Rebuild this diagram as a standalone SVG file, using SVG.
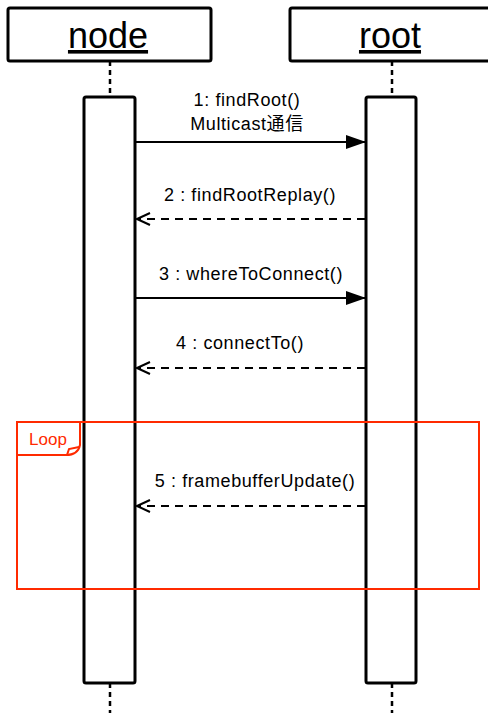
<svg xmlns="http://www.w3.org/2000/svg" width="488" height="713" viewBox="0 0 488 713">
<style>
.box{fill:#fff;stroke:#000;stroke-width:3;stroke-linejoin:round}
.life{stroke:#000;stroke-width:2.5;stroke-dasharray:5 4;fill:none}
.title{font-family:"Liberation Sans",Arial,sans-serif;font-size:36px;text-anchor:middle;fill:#000;text-decoration:underline}
.lbl{font-family:"Liberation Sans","Noto Sans CJK JP",Arial,sans-serif;font-size:18px;letter-spacing:0.6px;text-anchor:middle;fill:#000}
.msg{stroke:#000;stroke-width:2;fill:none}
.ret{stroke:#000;stroke-width:2;fill:none;stroke-dasharray:8 6}
.frame{fill:none;stroke:#ff2a00;stroke-width:2}
</style>
<defs>
<marker id="fill" markerWidth="20" markerHeight="14" refX="19" refY="7" orient="auto" markerUnits="userSpaceOnUse">
<path d="M0,0 L20,7 L0,14 Z" fill="#000"/>
</marker>
<marker id="open" markerWidth="16" markerHeight="14" refX="14" refY="7" orient="auto" markerUnits="userSpaceOnUse">
<path d="M1,1 L14,7 L1,13" fill="none" stroke="#000" stroke-width="2"/>
</marker>
</defs>
<g id="node">
<rect class="box" x="8" y="8" width="203" height="53" rx="2"/>
<text class="title" x="108" y="48">node</text>
<line class="life" x1="110" y1="61" x2="110" y2="97"/>
<line class="life" x1="110" y1="683" x2="110" y2="713"/>
<rect class="box" x="84" y="97" width="51" height="586" rx="2"/>
</g>
<g id="root">
<rect class="box" x="290" y="8" width="200" height="53" rx="2"/>
<text class="title" x="390" y="48">root</text>
<line class="life" x1="392" y1="61" x2="392" y2="97"/>
<line class="life" x1="392" y1="683" x2="392" y2="713"/>
<rect class="box" x="366" y="97" width="50" height="586" rx="2"/>
</g>
<g id="loop">
<rect class="frame" x="17" y="422" width="462" height="167"/>
<path class="frame" d="M17,455 H66 Q78,455 80,445 V422"/>
<path class="frame" d="M67,455 L69,449 L79,447"/>
<text x="48" y="445" font-family="'Liberation Sans',Arial,sans-serif" font-size="17" fill="#ff2a00" text-anchor="middle">Loop</text>
</g>
<g id="connectors">
<line class="msg" x1="136" y1="142" x2="365" y2="142" marker-end="url(#fill)"/>
<line class="ret" x1="365" y1="219" x2="137" y2="219" marker-end="url(#open)"/>
<line class="msg" x1="136" y1="298" x2="365" y2="298" marker-end="url(#fill)"/>
<line class="ret" x1="365" y1="368" x2="137" y2="368" marker-end="url(#open)"/>
<line class="ret" x1="365" y1="506" x2="137" y2="506" marker-end="url(#open)"/>
</g>
<g id="labels">
<text class="lbl" x="247" y="106">1: findRoot()</text>
<text class="lbl" x="247" y="130">Multicast通信</text>
<text class="lbl" x="250" y="201">2 : findRootReplay()</text>
<text class="lbl" x="251" y="280">3 : whereToConnect()</text>
<text class="lbl" x="240" y="349">4 : connectTo()</text>
<text class="lbl" x="255" y="487">5 : framebufferUpdate()</text>
</g>
</svg>
